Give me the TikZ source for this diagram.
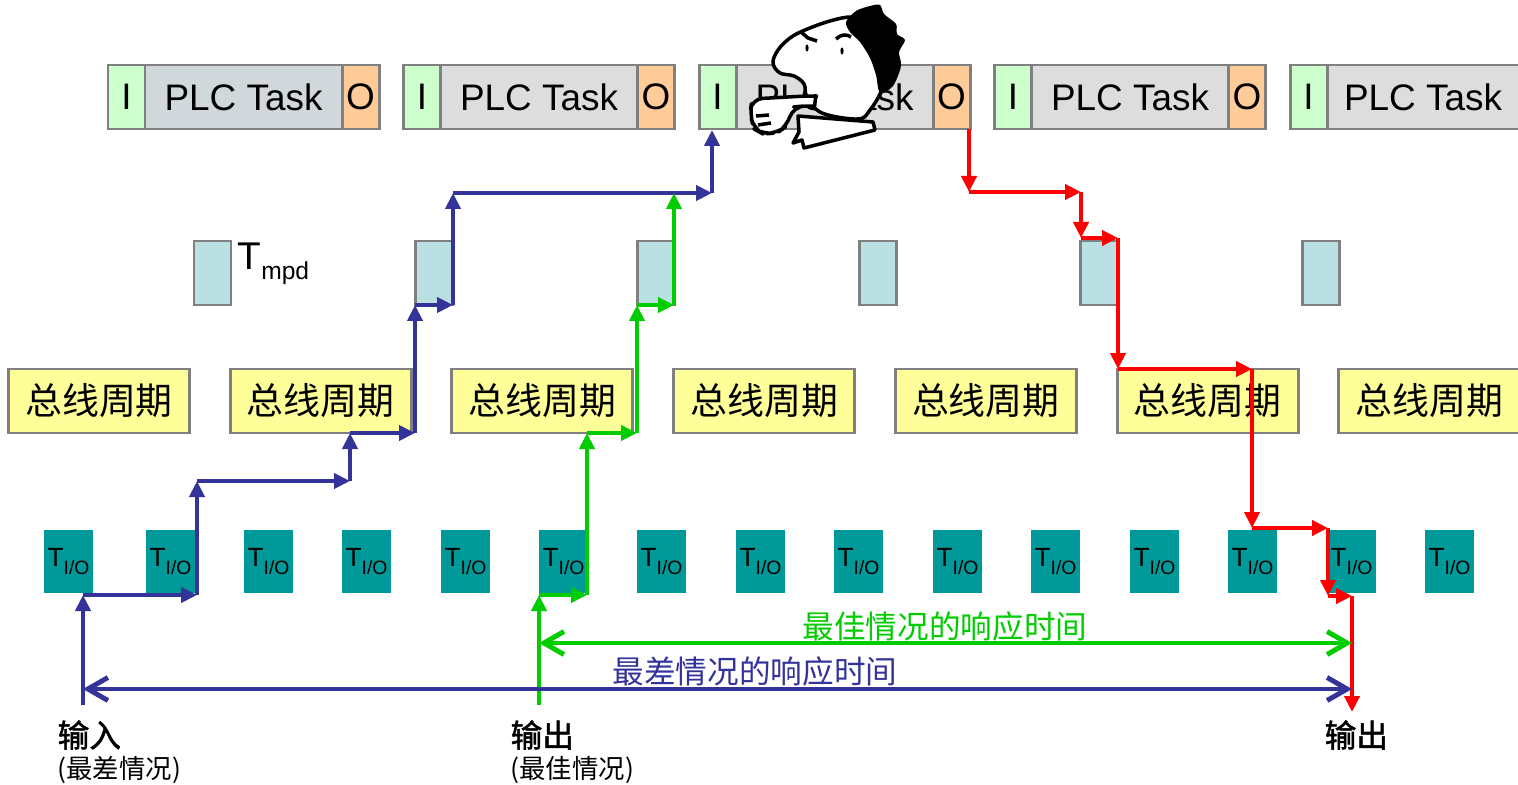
\documentclass[tikz,border=0pt]{standalone}
\usepackage{fontspec}
\setmainfont{Liberation Sans}
\newfontfamily\cjk{Noto Sans CJK SC}
\newfontfamily\cjkbold[FakeBold=1.6]{Noto Sans CJK SC}
\usetikzlibrary{arrows.meta}

\definecolor{boxline}{HTML}{808080}
\definecolor{incol}{HTML}{CCFFCC}
\definecolor{outcol}{HTML}{FFCC99}
\definecolor{taskcol}{HTML}{DDDDDD}
\definecolor{taskfirst}{HTML}{D0D8DC}
\definecolor{mpdcol}{HTML}{BBE0E3}
\definecolor{buscol}{HTML}{FFFF99}
\definecolor{iocol}{HTML}{009999}
\definecolor{worst}{HTML}{333399}
\definecolor{best}{HTML}{00CC00}
\definecolor{outpath}{HTML}{FF0000}

% T with a lowered I/O
\newcommand{\tio}{{\fontsize{7.5}{8}\selectfont T}\raisebox{-2.2pt}{\fontsize{5.5}{6}\selectfont I/O}}

\begin{document}
\begin{tikzpicture}[
  x=0.1mm, y=-0.1mm,
  font=\fontsize{10.5}{12}\selectfont,
  cell/.style={draw=boxline, line width=0.85pt, minimum height=6.4mm, inner sep=0pt},
  incell/.style={cell, fill=incol, minimum width=3.7mm},
  taskcell/.style={cell, minimum width=19.7mm},
  outcell/.style={cell, fill=outcol, minimum width=3.7mm},
  mpdbox/.style={cell, fill=mpdcol, minimum width=3.7mm},
  busbox/.style={cell, fill=buscol, minimum width=18.1mm, font=\cjk\fontsize{10.5}{12}\selectfont},
  iobox/.style={fill=iocol, minimum width=4.9mm, minimum height=6.3mm, inner sep=0pt},
  stepline/.style={line width=1.4pt, -{Triangle[length=1.6mm, width=1.5mm]}},
  span/.style={line width=1.4pt, {Straight Barb[length=2mm, width=2.3mm]}-{Straight Barb[length=2mm, width=2.3mm]}},
  spanlbl/.style={font=\cjk\fontsize{9}{10}\selectfont},
  endlbl/.style={anchor=west, inner sep=0pt, font=\cjkbold\fontsize{9}{10}\selectfont},
  caselbl/.style={anchor=west, inner sep=0pt, font=\cjk\fontsize{7.5}{9}\selectfont}
]
  \fill[white] (0,0) rectangle (1518,785);
  \clip (0,0) rectangle (1518,785);

  % PLC task cycles
  \foreach \i/\tc in {0/taskfirst,1/taskcol,2/taskcol,3/taskcol} {
    \pgfmathsetmacro{\xx}{108+295.5*\i}
    \node[incell] (in\i) at (\xx+18.5,97) {I};
    \node[taskcell, fill=\tc] (task\i) at (\xx+135.5,97) {PLC Task};
    \node[outcell] (out\i) at (\xx+252.5,97) {O};
  }
  \node[incell] (in4) at (1308.5,97) {I};
  \node[taskcell, fill=taskcol, minimum width=19.2mm] (task4) at (1423,97) {PLC Task};

  % mapping delays
  \foreach \i in {0,...,5}
    \node[mpdbox] (mpd\i) at (212.5+221.7*\i,273) {};
  \node[anchor=base west, inner sep=0pt] (mpdlbl) at (237,270)
    {{\fontsize{11}{12}\selectfont T}\raisebox{-2.8pt}{\fontsize{7}{8}\selectfont mpd}};

  % bus cycles
  \foreach \i in {0,...,6}
    \node[busbox] (bus\i) at (99+221.7*\i,401) {总线周期};

  % I/O times
  \foreach \x [count=\i] in {44,146,244,342,441,539,637,736,834,933,1031,1130,1228,1327,1425}
    \node[iobox] (io\i) at (\x+24.5,561.5) {\tio};

  % worst case path
  \foreach \n/\x/\y in {0/83/705, 1/83/595, 2/197/595, 3/197/481, 4/350/481, 5/350/433,
                        6/415/433, 7/415/305, 8/453/305, 9/453/193, 10/712/193, 11/712/130}
    \coordinate (b\n) at (\x,\y);
  \foreach \a/\b in {0/1,1/2,2/3,3/4,4/5,5/6,6/7,7/8,8/9,9/10,10/11}
    \draw[stepline, worst] (b\a) -- (b\b);

  % best case path
  \foreach \n/\x/\y in {0/539/705, 1/539/595, 2/587/595, 3/587/433, 4/637/433,
                        5/637/305, 6/674/305, 7/674/193}
    \coordinate (g\n) at (\x,\y);
  \foreach \a/\b in {0/1,1/2,2/3,3/4,4/5,5/6,6/7}
    \draw[stepline, best] (g\a) -- (g\b);

  % output path
  \foreach \n/\x/\y in {0/969/129, 1/969/192, 2/1081/192, 3/1081/238, 4/1118/238, 5/1118/369,
                        6/1252/369, 7/1252/528, 8/1328/528, 9/1328/596, 10/1352/596, 11/1352/712}
    \coordinate (r\n) at (\x,\y);
  \foreach \a/\b in {0/1,1/2,2/3,3/4,4/5,5/6,6/7,7/8,8/9,9/10,10/11}
    \draw[stepline, outpath] (r\a) -- (r\b);

  % response times
  \coordinate (bestL) at (539,643);
  \coordinate (bestR) at (1352,643);
  \coordinate (worstL) at (83,689);
  \coordinate (worstR) at (1352,689);
  \draw[span, best] (bestL) -- (bestR);
  \draw[span, worst] (worstL) -- (worstR);
  \node[spanlbl, text=best] (bestlbl) at (945,626) {最佳情况的响应时间};
  \node[spanlbl, text=worst] (worstlbl) at (755,671) {最差情况的响应时间};

  \node[endlbl] (inlbl) at (57,735) {输入};
  \node[caselbl] (inlbl2) at (57,770) {(最差情况)};
  \node[endlbl] (outlbl) at (510,735) {输出};
  \node[caselbl] (outlbl2) at (510,770) {(最佳情况)};
  \node[endlbl] (outlbl3) at (1324,735) {输出};

  % thinking man
  \begin{scope}[line width=1pt, line join=round]
    \draw[fill=white] (798,116) -- (873,122) -- (875,130) -- (804,148) -- (802,140)
      -- (793,143) -- (799,132) -- cycle;
    \draw[fill=white] plot[smooth cycle, tension=0.6] coordinates {(805,30) (830,21) (852,17)
      (874,22) (889,42) (890,66) (882,90) (870,110) (858,119) (822,113) (807,97) (804,84)
      (794,76) (780,73) (773,63) (778,50) (790,38)};
    \fill[black] plot[smooth cycle, tension=0.5] coordinates {(846,22) (856,11) (870,6)
      (880,5) (884,14) (896,24) (897,34) (905,40) (899,52) (901,66) (893,86) (880,93)
      (876,75) (870,58) (860,42) (850,32)};
    \fill (807,48) ellipse (1.6 and 3.5);
    \fill (842,51) ellipse (1.6 and 3.5);
    \draw (801,32) -- (808,38) -- (817,41);
    \draw (836,39) .. controls (841,34) and (847,34) .. (851,37);
    \draw[fill=white, rounded corners=3] (752,99) -- (806,96)
      .. controls (815,96) and (815,106) .. (804,106) -- (793,107) -- (787,126)
      -- (777,133) -- (763,134) -- (754,129) -- (750,114) -- cycle;
    \draw (756,116) -- (769,115);
    \draw (758,125) -- (771,123);
  \end{scope}
\end{tikzpicture}
\end{document}
